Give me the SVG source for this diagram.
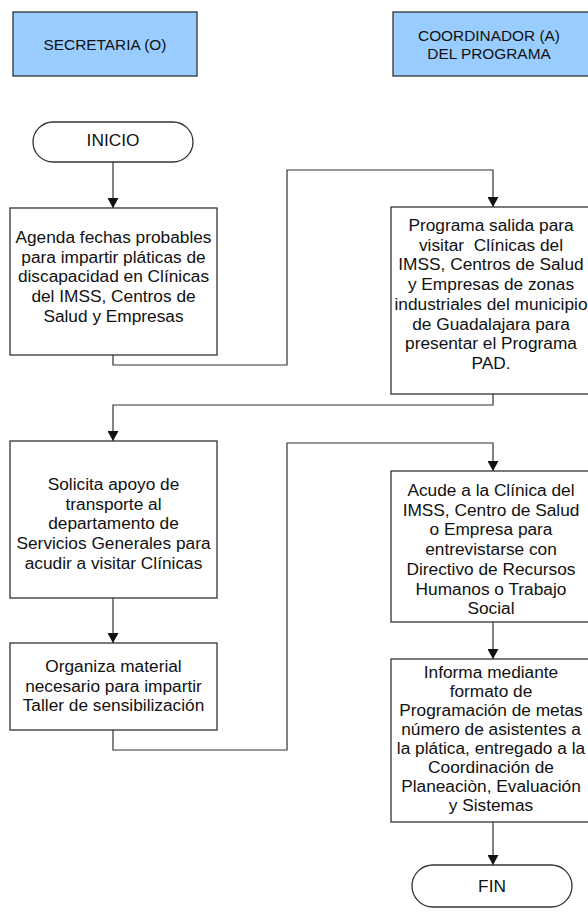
<svg xmlns="http://www.w3.org/2000/svg" width="588" height="912" viewBox="0 0 588 912">
<style>
.bg{fill:#ffffff}
.hdr{fill:#99ccff;stroke:#333333;stroke-width:1.3}
.box{fill:#ffffff;stroke:#333333;stroke-width:1.3}
.t{font-family:"Liberation Sans",Arial,sans-serif;font-size:17.3px;fill:#111111;text-anchor:middle}
.h{font-family:"Liberation Sans",Arial,sans-serif;font-size:15.4px;fill:#111111;text-anchor:middle}
.c{fill:none;stroke:#333333;stroke-width:1.2}
</style>
<defs>
<marker id="ah" viewBox="0 0 10 11" refX="10" refY="5.5" markerWidth="10" markerHeight="11" markerUnits="userSpaceOnUse" orient="auto">
<path d="M0,0 L10,5.5 L0,11 Z" fill="#111111"/>
</marker>
</defs>
<rect class="bg" x="0" y="0" width="588" height="912"/>

<g id="hdr-secretaria">
<rect class="hdr" x="13" y="12" width="184" height="64"/>
<text class="h" x="105" y="49.5">SECRETARIA (O)</text>
</g>
<g id="hdr-coordinador">
<rect class="hdr" x="393" y="12" width="200" height="64"/>
<text class="h" x="489" y="40.5">COORDINADOR (A)</text>
<text class="h" x="489" y="58.5">DEL PROGRAMA</text>
</g>

<g id="connectors">
<path class="c" d="M113,162 L113,208" marker-end="url(#ah)"/>
<path class="c" d="M113,355 L113,365 L287,365 L287,170 L493,170 L493,207" marker-end="url(#ah)"/>
<path class="c" d="M493,394 L493,405 L113,405 L113,441" marker-end="url(#ah)"/>
<path class="c" d="M113,598 L113,643" marker-end="url(#ah)"/>
<path class="c" d="M113,730 L113,750 L287,750 L287,443 L493,443 L493,471" marker-end="url(#ah)"/>
<path class="c" d="M493,622 L493,659" marker-end="url(#ah)"/>
<path class="c" d="M493,822 L493,865" marker-end="url(#ah)"/>
</g>

<g id="inicio">
<rect class="box" x="33" y="122" width="160" height="40" rx="20" ry="20"/>
<text class="t" x="113" y="146">INICIO</text>
</g>

<g id="box1">
<rect class="box" x="10" y="208" width="207" height="147"/>
<text class="t"><tspan x="113.5" y="243">Agenda fechas probables</tspan><tspan x="113.5" dy="19.7">para impartir pláticas de</tspan><tspan x="113.5" dy="19.7">discapacidad en Clínicas</tspan><tspan x="113.5" dy="19.7">del IMSS, Centros de</tspan><tspan x="113.5" dy="19.7">Salud y Empresas</tspan></text>
</g>

<g id="box2">
<rect class="box" x="391" y="207" width="207" height="187"/>
<text class="t" style="white-space:pre"><tspan x="491" y="231">Programa salida para</tspan><tspan x="491" dy="19.7">visitar  Clínicas del</tspan><tspan x="491" dy="19.7">IMSS, Centros de Salud</tspan><tspan x="491" dy="19.7">y Empresas de zonas</tspan><tspan x="491" dy="19.7">industriales del municipio</tspan><tspan x="491" dy="19.7">de Guadalajara para</tspan><tspan x="491" dy="19.7">presentar el Programa</tspan><tspan x="491" dy="19.7">PAD.</tspan></text>
</g>

<g id="box3">
<rect class="box" x="10" y="441" width="207" height="157"/>
<text class="t"><tspan x="113.5" y="490">Solicita apoyo de</tspan><tspan x="113.5" dy="19.7">transporte al</tspan><tspan x="113.5" dy="19.7">departamento de</tspan><tspan x="113.5" dy="19.7">Servicios Generales para</tspan><tspan x="113.5" dy="19.7">acudir a visitar Clínicas</tspan></text>
</g>

<g id="box4">
<rect class="box" x="10" y="643" width="207" height="87"/>
<text class="t"><tspan x="113.5" y="672">Organiza material</tspan><tspan x="113.5" dy="19.7">necesario para impartir</tspan><tspan x="113.5" dy="19.7">Taller de sensibilización</tspan></text>
</g>

<g id="box5">
<rect class="box" x="391" y="471" width="207" height="151"/>
<text class="t"><tspan x="491" y="496">Acude a la Clínica del</tspan><tspan x="491" dy="19.7">IMSS, Centro de Salud</tspan><tspan x="491" dy="19.7">o Empresa para</tspan><tspan x="491" dy="19.7">entrevistarse con</tspan><tspan x="491" dy="19.7">Directivo de Recursos</tspan><tspan x="491" dy="19.7">Humanos o Trabajo</tspan><tspan x="491" dy="19.7">Social</tspan></text>
</g>

<g id="box6">
<rect class="box" x="391" y="659" width="207" height="163"/>
<text class="t"><tspan x="491" y="678">Informa mediante</tspan><tspan x="491" dy="19">formato de</tspan><tspan x="491" dy="19">Programación de metas</tspan><tspan x="491" dy="19">número de asistentes a</tspan><tspan x="491" dy="19">la plática, entregado a la</tspan><tspan x="491" dy="19">Coordinación de</tspan><tspan x="491" dy="19">Planeaciòn, Evaluación</tspan><tspan x="491" dy="19">y Sistemas</tspan></text>
</g>

<g id="fin">
<rect class="box" x="412" y="865" width="160" height="42" rx="21" ry="21"/>
<text class="t" x="492" y="892">FIN</text>
</g>
</svg>
